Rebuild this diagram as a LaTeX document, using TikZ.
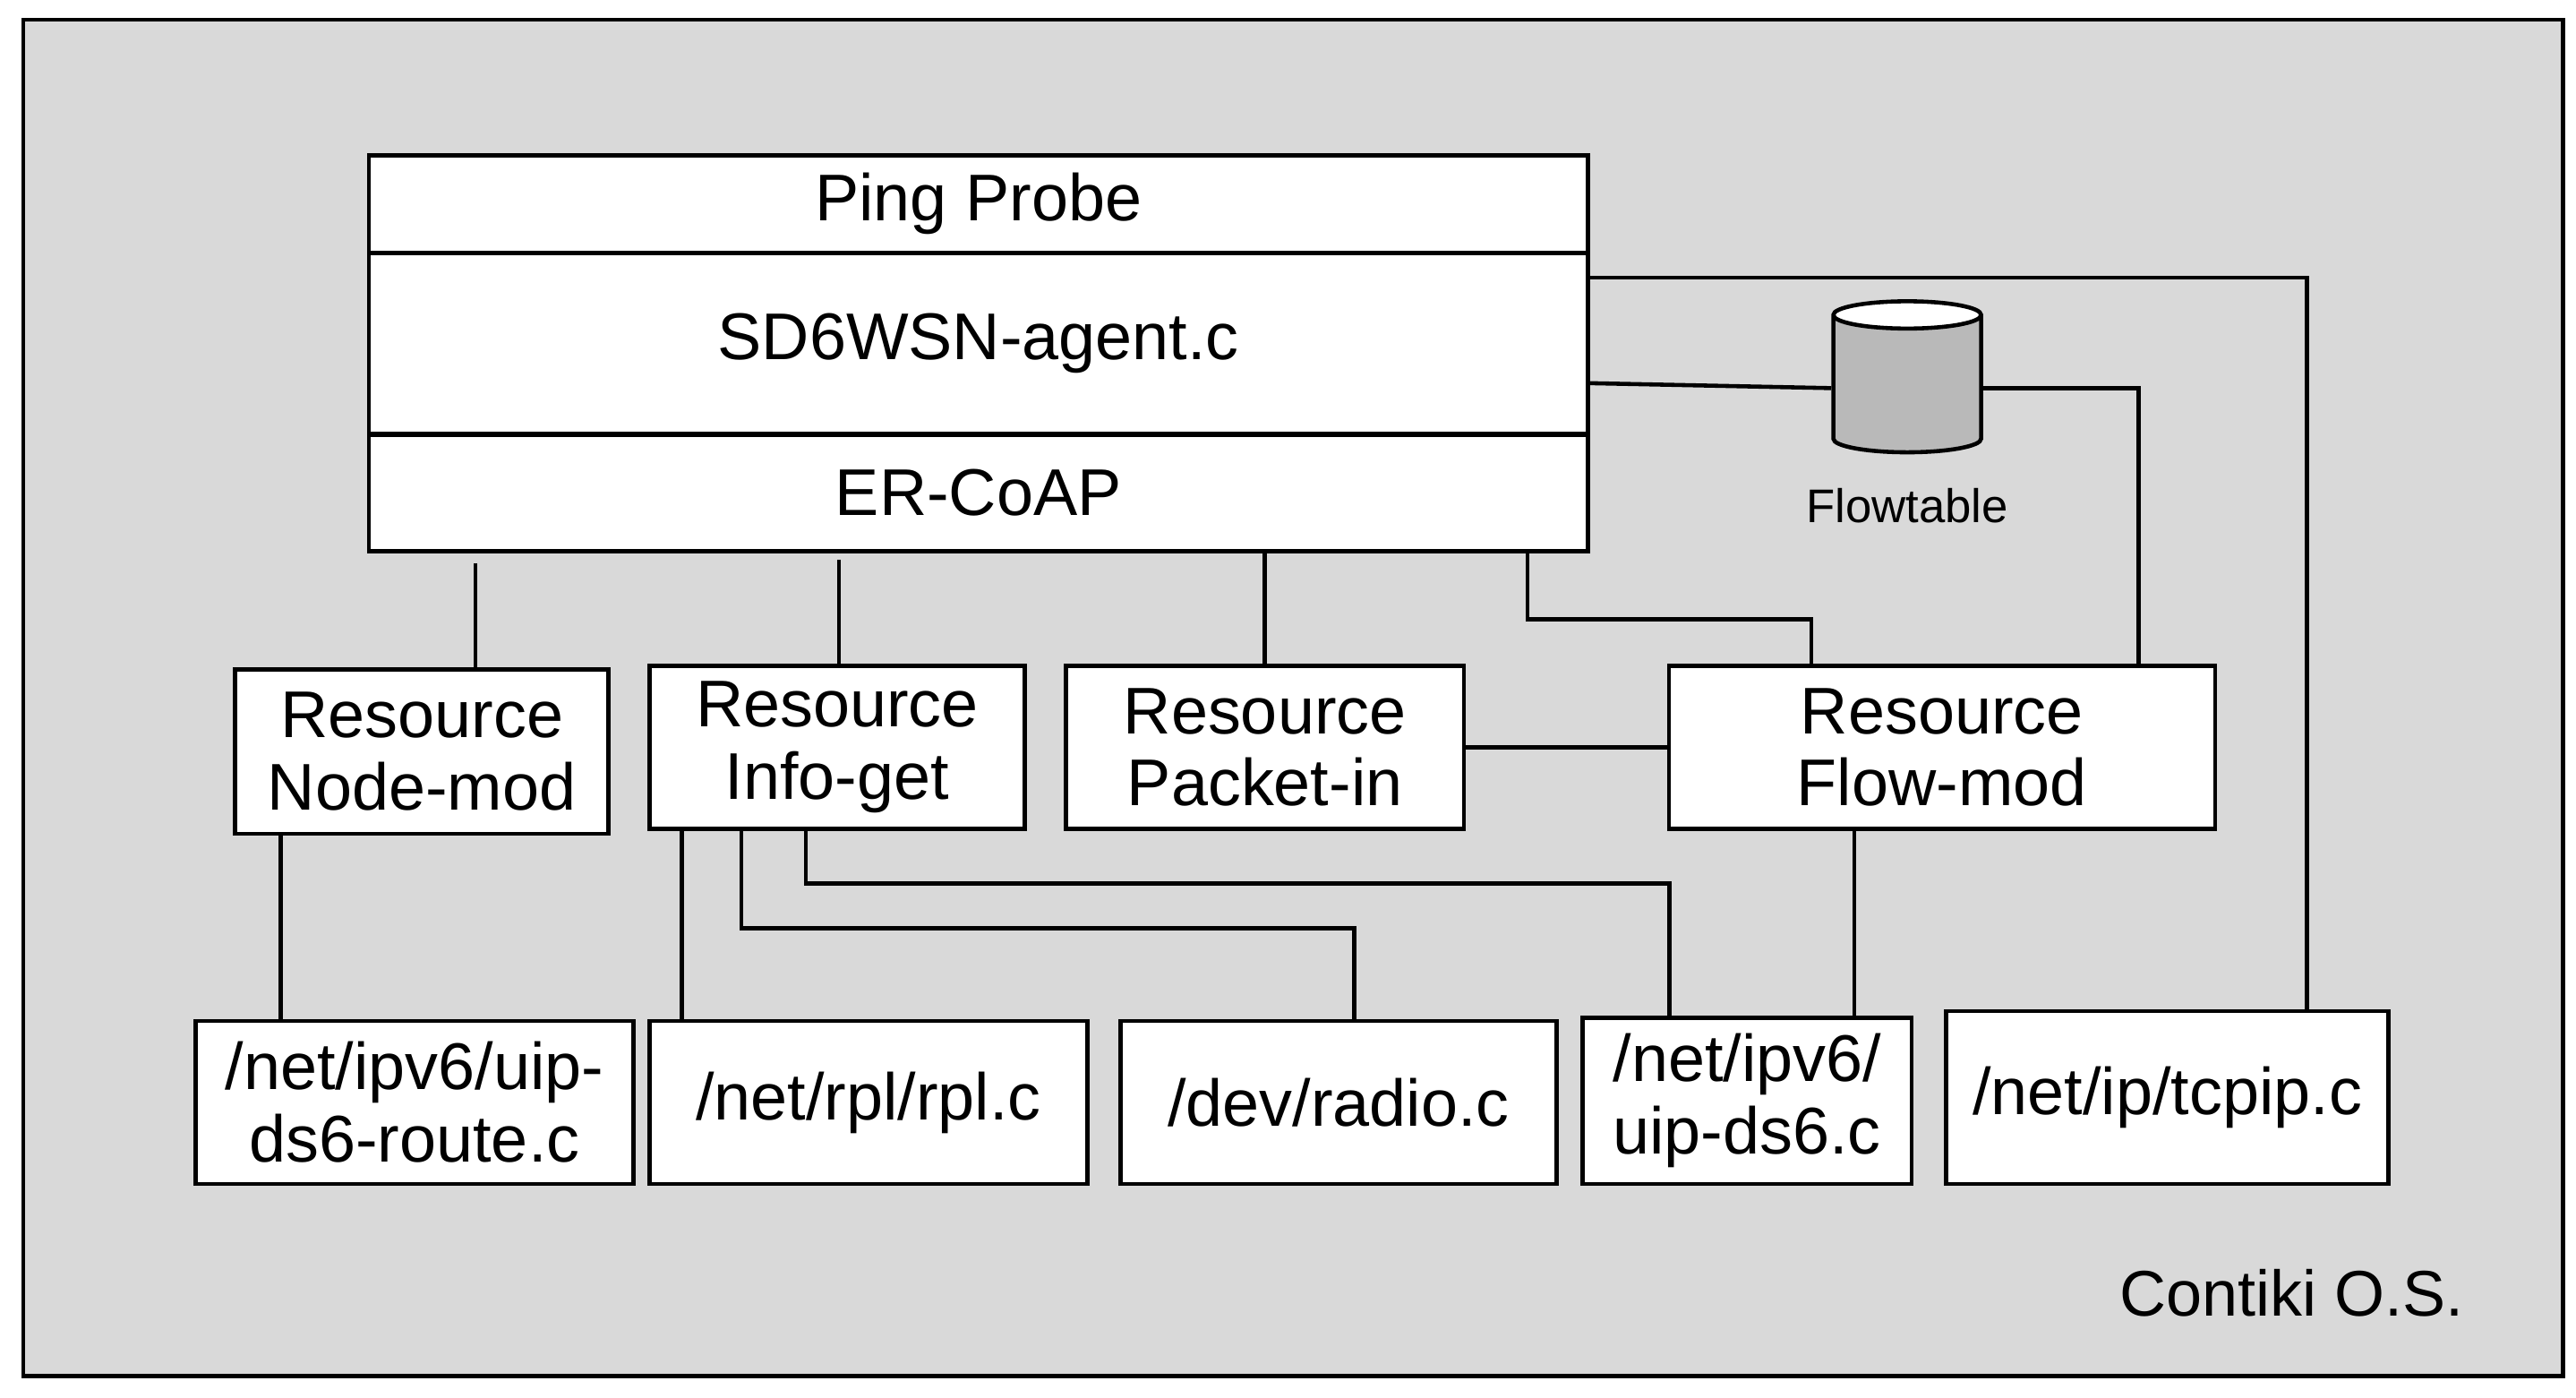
\documentclass[tikz,border=0pt]{standalone}
\usepackage{fontspec}
\setmainfont{Liberation Sans}
\usetikzlibrary{shapes.geometric}
\tikzset{
  box/.style={draw, fill=white, line width=1.3pt, align=center, inner sep=0pt,
    font=\fontsize{21}{23}\selectfont},
  wire/.style={line width=1.3pt}
}
\begin{document}
\begin{tikzpicture}[x=0.1845mm, y=-0.1845mm]
  \useasboundingbox (0,0) rectangle (1560,846);
  \draw[line width=1.3pt, fill=gray!30] (14,12) rectangle (1552,833);

  % agent stack
  \node[box, minimum width=387.5pt, minimum height=30.9pt] (ping) at (592.5,123.5) {Ping Probe};
  \node[box, minimum width=387.5pt, minimum height=57.5pt] (agent) at (592.5,208) {SD6WSN-agent.c};
  \node[box, minimum width=387.5pt, minimum height=37.1pt] (coap) at (592.5,298.5) {ER-CoAP};

  % resources
  \node[box, minimum width=118.7pt, minimum height=52.3pt] (nodemod) at (255.5,455) {Resource\\Node-mod};
  \node[box, minimum width=119.2pt, minimum height=51.8pt] (infoget) at (507,452.5) {Resource\\Info-get};
  \node[box, minimum width=126.6pt, minimum height=51.8pt] (packetin) at (766,452.5) {Resource\\Packet-in};
  \node[box, minimum width=173.6pt, minimum height=51.8pt] (flowmod) at (1176,452.5) {Resource\\Flow-mod};

  % contiki files
  \node[box, minimum width=139.1pt, minimum height=51.8pt] (route) at (251,667.5) {/net/ipv6/uip-\\ds6-route.c};
  \node[box, minimum width=139.1pt, minimum height=51.8pt] (rpl) at (526,667.5) {/net/rpl/rpl.c};
  \node[box, minimum width=138.6pt, minimum height=51.8pt] (radio) at (810.5,667.5) {/dev/radio.c};
  \node[box, minimum width=104.6pt, minimum height=52.8pt] (uipds) at (1058,666.5) {/net/ipv6/\\uip-ds6.c};
  \node[box, minimum width=140.7pt, minimum height=54.9pt] (tcpip) at (1312.5,664.5) {/net/ip/tcpip.c};

  % flowtable
  \node[cylinder, shape border rotate=90, draw, line width=1.3pt, aspect=1.3,
    minimum width=47pt, minimum height=48pt, cylinder uses custom fill,
    cylinder body fill=gray!55, cylinder end fill=white] (flowtab) at (1155,235) {};
  \node[font=\fontsize{15}{17}\selectfont] (flowlbl) at (1155,306) {Flowtable};

  \node[font=\fontsize{20.5}{23}\selectfont] (os) at (1388,783) {Contiki O.S.};

  % connectors
  \draw[wire] (nodemod.north -| 288,0) ++(0,-63) -- (nodemod.north -| 288,0);
  \draw[wire] (infoget.north -| 508,0) ++(0,-63) -- (infoget.north -| 508,0);
  \draw[wire] (coap.south -| packetin.north) -- (packetin.north);
  \draw[wire] (coap.south -| 925,0) |- (1097,375) -- (flowmod.north -| 1097,0);
  \draw[wire] (agent.east |- 0,168) -| (tcpip.north -| 1397,0);
  \draw[wire] (agent.east |- 0,232) -- (flowtab.west);
  \draw[wire] (flowtab.east) -| (flowmod.north -| 1295,0);
  \draw[wire] (packetin.east) -- (flowmod.west);
  \draw[wire] (nodemod.south -| 170,0) -- (route.north -| 170,0);
  \draw[wire] (infoget.south -| 413,0) -- (rpl.north -| 413,0);
  \draw[wire] (infoget.south -| 449,0) |- (820,562) -- (radio.north -| 820,0);
  \draw[wire] (infoget.south -| 488,0) |- (1011,535) -- (uipds.north -| 1011,0);
  \draw[wire] (flowmod.south -| 1123,0) -- (uipds.north -| 1123,0);
\end{tikzpicture}
\end{document}
